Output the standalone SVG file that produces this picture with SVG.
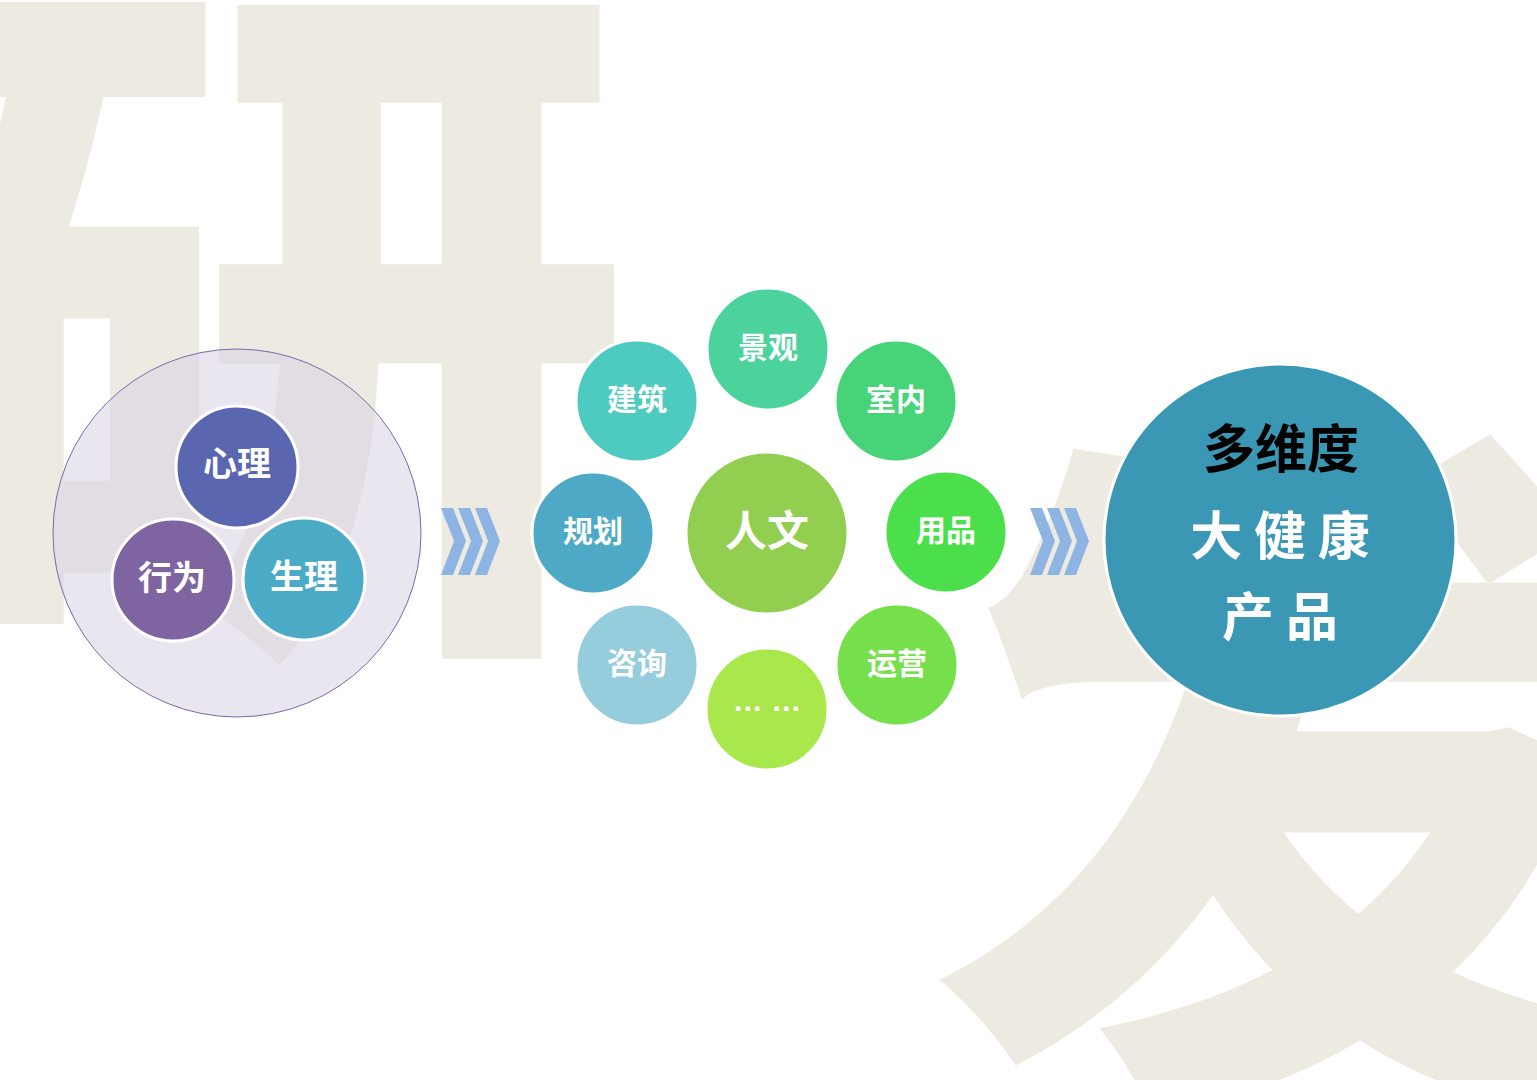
<svg xmlns="http://www.w3.org/2000/svg" width="1537" height="1080" viewBox="0 0 1537 1080">
<style>
.bg{font-family:"Noto Sans CJK SC","Noto Sans CJK JP",sans-serif;font-weight:900;fill:#EDEBE1}
.lbl{font-family:"Noto Sans CJK SC","Noto Sans CJK JP",sans-serif;font-weight:700;fill:#FFFFFF;text-anchor:middle;dominant-baseline:central}
.dots{font-family:"Liberation Sans",sans-serif;font-weight:700;fill:#FFFFFF;text-anchor:middle}
.n{stroke:#FFFFFF;stroke-width:3}
.chev{fill:#8EB4E3}
</style>
<rect width="1537" height="1080" fill="#FFFFFF"/>
<g id="background">
<text class="bg" x="-92" y="590" font-size="724">研</text>
<text class="bg" x="930" y="1052" font-size="720">发</text>
</g>
<g id="connectors">
<g id="chevrons-1">
<polygon class="chev" points="441,508 453,508 466,541 453,575 441,575 454,541"/>
<polygon class="chev" points="458,508 470,508 483,541 470,575 458,575 471,541"/>
<polygon class="chev" points="475,508 487,508 500,541 487,575 475,575 488,541"/>
</g>
<g id="chevrons-2">
<polygon class="chev" points="1030,508 1042,508 1055,541 1042,575 1030,575 1043,541"/>
<polygon class="chev" points="1047,508 1059,508 1072,541 1059,575 1047,575 1060,541"/>
<polygon class="chev" points="1064,508 1076,508 1089,541 1076,575 1064,575 1077,541"/>
</g>
</g>
<g id="group-left">
<circle cx="237" cy="533" r="184" fill="#D7D2E4" fill-opacity="0.55" stroke="#7A6AAA" stroke-width="1"/>
</g>
<g id="node-xinli"><circle class="n" cx="237" cy="467" r="61" fill="#5A67B0"/><text class="lbl" x="237" y="461" font-size="34">心理</text></g>
<g id="node-xingwei"><circle class="n" cx="173" cy="580" r="61" fill="#7F64A2"/><text class="lbl" x="172" y="575" font-size="34">行为</text></g>
<g id="node-shengli"><circle class="n" cx="304" cy="579" r="61" fill="#4BABC6"/><text class="lbl" x="304" y="574" font-size="34">生理</text></g>
<g id="node-renwen"><circle class="n" cx="767" cy="533" r="81" fill="#92CF50"/><text class="lbl" x="767" y="527" font-size="42">人文</text></g>
<g id="node-jingguan"><circle class="n" cx="768" cy="349" r="61" fill="#4CD29B"/><text class="lbl" x="768" y="345" font-size="30">景观</text></g>
<g id="node-jianzhu"><circle class="n" cx="637" cy="401" r="61" fill="#4ECBC0"/><text class="lbl" x="637" y="397" font-size="30">建筑</text></g>
<g id="node-shinei"><circle class="n" cx="896" cy="401" r="61" fill="#47D479"/><text class="lbl" x="896" y="397" font-size="30">室内</text></g>
<g id="node-guihua"><circle class="n" cx="593" cy="533" r="61" fill="#4DA9C6"/><text class="lbl" x="593" y="529" font-size="30">规划</text></g>
<g id="node-yongpin"><circle class="n" cx="946" cy="532" r="61" fill="#4CDF4C"/><text class="lbl" x="946" y="528" font-size="30">用品</text></g>
<g id="node-zixun"><circle class="n" cx="637" cy="665" r="61" fill="#96CDDD"/><text class="lbl" x="637" y="661" font-size="30">咨询</text></g>
<g id="node-yunying"><circle class="n" cx="897" cy="665" r="61" fill="#76E04C"/><text class="lbl" x="897" y="661" font-size="30">运营</text></g>
<g id="node-more"><circle class="n" cx="767" cy="709" r="61" fill="#A9E84A"/><text class="dots" x="767" y="711" font-size="30">… …</text></g>
<g id="node-product">
<circle cx="1280" cy="540" r="176" fill="#3A98B5" stroke="#FFFFFF" stroke-width="3"/>
<text class="lbl" x="1281" y="445" font-size="52" style="fill:#000000">多维度</text>
<text class="lbl" x="1280" y="532" font-size="52" xml:space="preserve">大 健 康</text>
<text class="lbl" x="1280" y="613" font-size="52" xml:space="preserve">产 品</text>
</g>
</svg>
